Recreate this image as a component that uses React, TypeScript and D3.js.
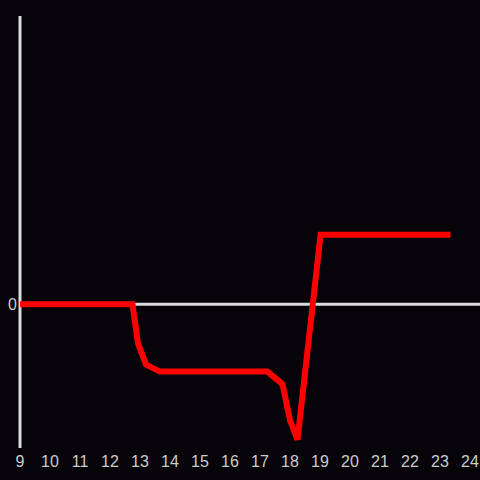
import React from "react";
import * as d3 from "d3";

const hours = [9, 12.75, 12.93, 13.2, 13.67, 17.25, 17.75, 18.0, 18.25, 19.02, 23.35];
const values = [0, 0, -0.56, -0.87, -0.97, -0.97, -1.15, -1.67, -1.95, 1.0, 1.0];
const xTicks = [9, 10, 11, 12, 13, 14, 15, 16, 17, 18, 19, 20, 21, 22, 23, 24];
const yTicks = [0];

export default function App() {
  const W = 480, H = 480;
  const x = d3.scaleLinear().domain([9, 24]).range([20, 470]);
  const y = d3.scaleLinear().domain([-2.07, 4.15]).range([448, 16]);
  const line = d3
    .line<number>()
    .x((_, i) => x(hours[i]))
    .y((d) => y(d))(values) as string;
  const axisColor = "#dcdcdc";
  return (
    <svg
      width={W}
      height={H}
      style={{ position: "absolute", left: 0, top: 0, background: "#060409" }}
    >
      <rect x={0} y={0} width={W} height={H} fill="#060409" />
      <line x1={x(9)} x2={x(9)} y1={16} y2={448} stroke={axisColor} strokeWidth={3} />
      {yTicks.map((t) => (
        <g key={t}>
          <line x1={x(9)} x2={480} y1={y(t)} y2={y(t)} stroke={axisColor} strokeWidth={3} />
          <text
            x={17}
            y={y(t)}
            dy="0.35em"
            textAnchor="end"
            fill="#cccccc"
            fontFamily="Liberation Sans, Arial, sans-serif"
            fontSize={16}
          >
            {t}
          </text>
        </g>
      ))}
      <path d={line} fill="none" stroke="#ff0000" strokeWidth={6} strokeLinejoin="miter" strokeLinecap="butt" />
      {xTicks.map((t) => (
        <text
          key={t}
          x={x(t)}
          y={467}
          textAnchor="middle"
          fill="#cccccc"
          fontFamily="Liberation Sans, Arial, sans-serif"
          fontSize={16}
        >
          {t}
        </text>
      ))}
    </svg>
  );
}
